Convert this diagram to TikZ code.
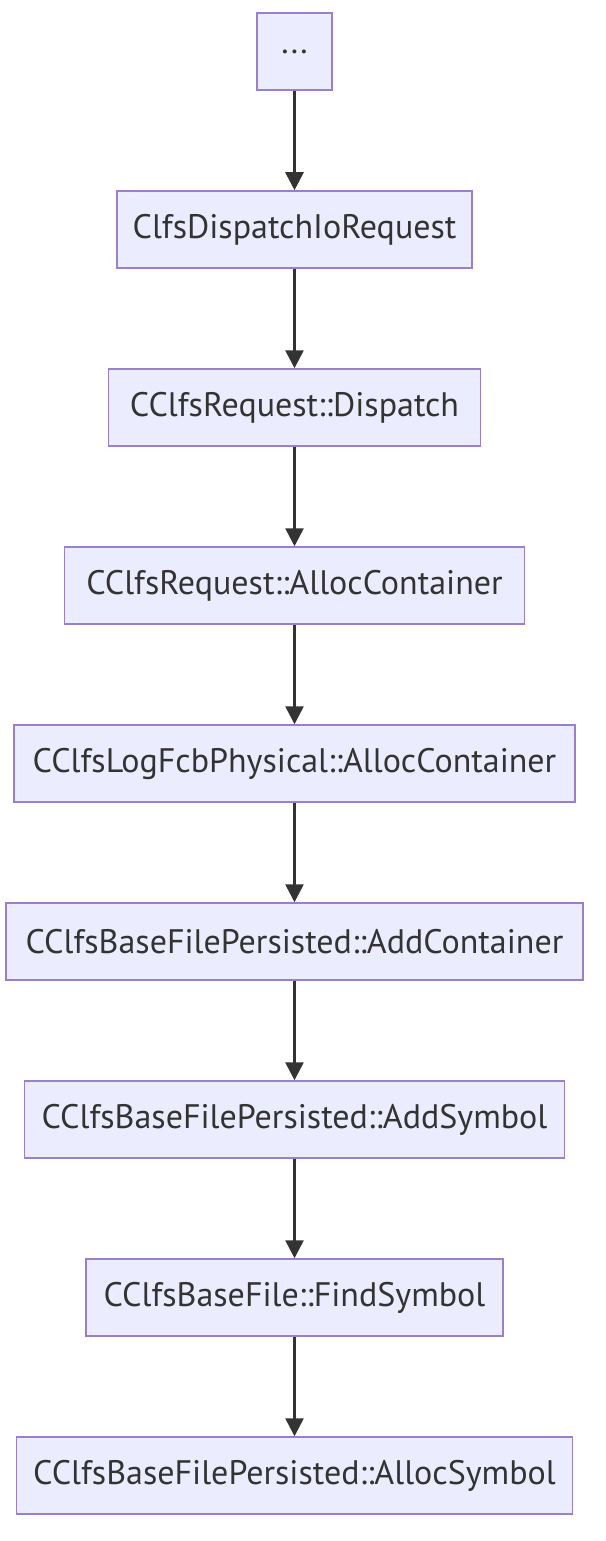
\documentclass[tikz,border=0pt]{standalone}
\usepackage{fontspec}
\setmainfont{PT Sans}
\usetikzlibrary{arrows.meta}
\definecolor{boxfill}{HTML}{ECECFF}
\definecolor{boxdraw}{HTML}{9A7FCC}
\definecolor{ink}{HTML}{333333}
\begin{document}
\begin{tikzpicture}[x=1pt,y=-1pt,
  fn/.style={draw=boxdraw, fill=boxfill, line width=1.5pt, minimum height=77pt, inner sep=0pt, text=ink, font=\fontsize{34}{40}\selectfont, anchor=center},
  flow/.style={draw=ink, line width=2.6pt, -{Triangle[width=18pt,length=18pt]}}]
\useasboundingbox (0,0) rectangle (605,1541);
\fill[white] (0,0) rectangle (605,1541);
\node[fn, minimum width=75pt] (n1) at (294.5,51.5) {...};
\node[fn, minimum width=355pt] (n2) at (294.5,229.5) {ClfsDispatchIoRequest};
\node[fn, minimum width=372pt] (n3) at (294.5,407.5) {CClfsRequest::Dispatch};
\node[fn, minimum width=460pt] (n4) at (294.5,585.5) {CClfsRequest::AllocContainer};
\node[fn, minimum width=561pt] (n5) at (294.5,763.5) {CClfsLogFcbPhysical::AllocContainer};
\node[fn, minimum width=577pt] (n6) at (294.5,941.5) {CClfsBaseFilePersisted::AddContainer};
\node[fn, minimum width=540pt] (n7) at (294.5,1119.5) {CClfsBaseFilePersisted::AddSymbol};
\node[fn, minimum width=417pt] (n8) at (294.5,1297.5) {CClfsBaseFile::FindSymbol};
\node[fn, minimum width=556pt] (n9) at (294.5,1475.5) {CClfsBaseFilePersisted::AllocSymbol};
\draw[flow] (n1) -- (n2);
\draw[flow] (n2) -- (n3);
\draw[flow] (n3) -- (n4);
\draw[flow] (n4) -- (n5);
\draw[flow] (n5) -- (n6);
\draw[flow] (n6) -- (n7);
\draw[flow] (n7) -- (n8);
\draw[flow] (n8) -- (n9);
\end{tikzpicture}
\end{document}
